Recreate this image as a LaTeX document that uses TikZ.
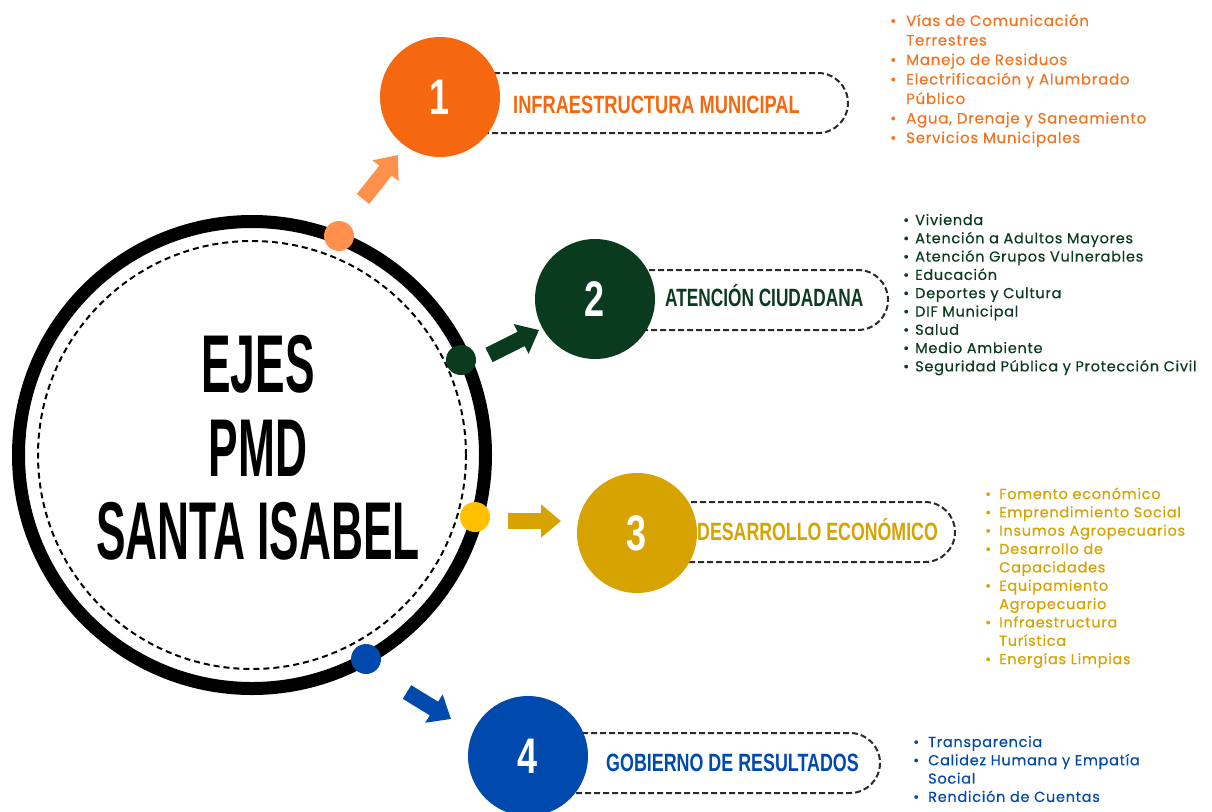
\documentclass[tikz,border=0pt]{standalone}
\usepackage{fontspec}
\usepackage{graphicx}
\usetikzlibrary{arrows.meta}
\setmainfont{Poppins}
\newfontfamily\hfont{Liberation Sans}
\newfontfamily\lfont{Poppins}[LetterSpace=5,FakeBold=0.4]
\definecolor{orA}{HTML}{F5680F}
\definecolor{orL}{HTML}{FF914D}
\definecolor{orT}{HTML}{F47320}
\definecolor{grA}{HTML}{0B3B1E}
\definecolor{goA}{HTML}{D7A300}
\definecolor{goD}{HTML}{FFC000}
\definecolor{blA}{HTML}{004AAD}
\definecolor{dsh}{HTML}{2A2A2A}
\newcommand\cx[2]{\scalebox{#1}[1]{#2}}
\newcommand\bi[2]{\makebox[#1][l]{\textbullet}#2}
\newcommand\ci[2]{\hspace*{#1}#2}
\begin{document}
\begin{tikzpicture}[x=1pt,y=-1pt,
 numc/.style={circle, minimum size=120pt, inner sep=0pt, text=white, font=\hfont\bfseries\fontsize{50}{50}\selectfont},
 dbox/.style={draw=dsh, line width=2pt, dash pattern=on 6pt off 3pt, rounded corners=30pt},
 head/.style={anchor=base west, inner sep=0pt, font=\hfont\bfseries\fontsize{25}{25}\selectfont},
 dot/.style={circle, minimum size=30pt, inner sep=0pt},
 barrow/.style={line width=16pt, -{Triangle[length=20pt,width=32pt]}},
 lst/.style={anchor=base west, inner sep=0pt, align=left},
]
\useasboundingbox[fill=white] (0,0) rectangle (1212,811);

% central ring
\node[circle, draw=black, line width=13pt, minimum size=467pt, inner sep=0pt] (ring) at (252,455) {};
\node[circle, draw=black, line width=2pt, dash pattern=on 6pt off 4pt, minimum size=428pt, inner sep=0pt] (inner) at (252,455) {};
\node[font=\hfont\bfseries\fontsize{82}{83.5}\selectfont, align=center, inner sep=0pt] (title) at (258,448)
 {\cx{0.54}{EJES}\\\cx{0.54}{PMD}\\\cx{0.54}{SANTA ISABEL}};

% dots on ring
\node[dot, fill=orL] (d1) at (339,236) {};
\node[dot, fill=grA] (d2) at (461,360) {};
\node[dot, fill=goD] (d3) at (475,517) {};
\node[dot, fill=blA] (d4) at (366,659) {};

% arrows
\coordinate (a1s) at (363,199); \coordinate (a1e) at (398,155);
\coordinate (a2s) at (489,355); \coordinate (a2e) at (539,330);
\coordinate (a3s) at (508,521); \coordinate (a3e) at (561,521);
\coordinate (a4s) at (407,692); \coordinate (a4e) at (451,719);
\draw[barrow, orL] (a1s) -- (a1e);
\draw[barrow, grA] (a2s) -- (a2e);
\draw[barrow, goA] (a3s) -- (a3e);
\draw[barrow, blA] (a4s) -- (a4e);

% dashed label boxes
\draw[dbox] (440,73) -| (848,133) -- (440,133);
\draw[dbox] (595,270) -| (888,330) -- (595,330);
\draw[dbox] (637,502) -| (955,562) -- (637,562);
\draw[dbox] (528,733) -| (880,793) -- (528,793);

% numbered circles
\node[numc, fill=orA] (n1) at (440,97) {\cx{0.72}{1}};
\node[numc, fill=grA] (n2) at (595,299) {\cx{0.72}{2}};
\node[numc, fill=goA] (n3) at (637,533) {\cx{0.72}{3}};
\node[numc, fill=blA] (n4) at (528,756) {\cx{0.72}{4}};

% headings
\node[head, text=orA] (h1) at (513,113) {\cx{0.73}{INFRAESTRUCTURA MUNICIPAL}};
\node[head, text=grA] (h2) at (665,306) {\cx{0.69}{ATENCIÓN CIUDADANA}};
\node[head, text=goA] (h3) at (697,540) {\cx{0.71}{DESARROLLO ECONÓMICO}};
\node[head, text=blA] (h4) at (606,771) {\cx{0.715}{GOBIERNO DE RESULTADOS}};

% lists
\node[lst, text=orT, font=\lfont\fontsize{15}{19.5}\selectfont] (l1) at (890,26) {\begin{tabular}[t]{@{}l@{}}
\bi{16pt}{Vías de Comunicación}\\
\ci{16pt}{Terrestres}\\
\bi{16pt}{Manejo de Residuos}\\
\bi{16pt}{Electrificación y Alumbrado}\\
\ci{16pt}{Público}\\
\bi{16pt}{Agua, Drenaje y Saneamiento}\\
\bi{16pt}{Servicios Municipales}
\end{tabular}};
\node[lst, text=grA, font=\lfont\fontsize{14.5}{18.3}\selectfont] (l2) at (903,225) {\begin{tabular}[t]{@{}l@{}}
\bi{12pt}{Vivienda}\\
\bi{12pt}{Atención a Adultos Mayores}\\
\bi{12pt}{Atención Grupos Vulnerables}\\
\bi{12pt}{Educación}\\
\bi{12pt}{Deportes y Cultura}\\
\bi{12pt}{DIF Municipal}\\
\bi{12pt}{Salud}\\
\bi{12pt}{Medio Ambiente}\\
\bi{12pt}{Seguridad Pública y Protección Civil}
\end{tabular}};
\node[lst, text=goA, font=\lfont\fontsize{14.5}{18.35}\selectfont] (l3) at (985,499) {\begin{tabular}[t]{@{}l@{}}
\bi{14pt}{Fomento económico}\\
\bi{14pt}{Emprendimiento Social}\\
\bi{14pt}{Insumos Agropecuarios}\\
\bi{14pt}{Desarrollo de}\\
\ci{14pt}{Capacidades}\\
\bi{14pt}{Equipamiento}\\
\ci{14pt}{Agropecuario}\\
\bi{14pt}{Infraestructura}\\
\ci{14pt}{Turística}\\
\bi{14pt}{Energías Limpias}
\end{tabular}};
\node[lst, text=blA, font=\lfont\fontsize{14.5}{18.3}\selectfont] (l4) at (913,747) {\begin{tabular}[t]{@{}l@{}}
\bi{15pt}{Transparencia}\\
\bi{15pt}{Calidez Humana y Empatía}\\
\ci{15pt}{Social}\\
\bi{15pt}{Rendición de Cuentas}
\end{tabular}};
\end{tikzpicture}
\end{document}
